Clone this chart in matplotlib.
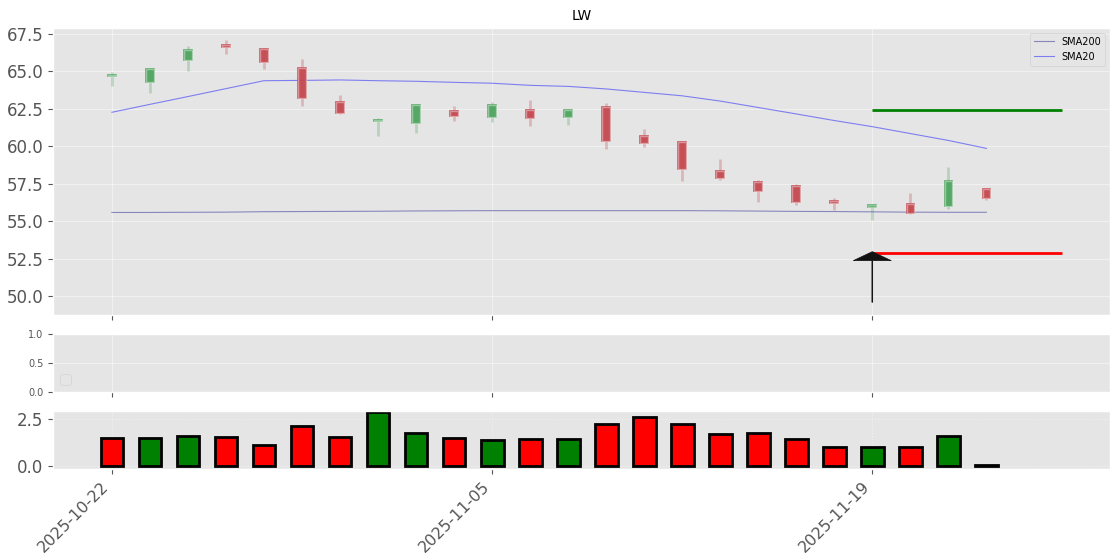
import numpy as np
import matplotlib.pyplot as plt
from matplotlib.ticker import MultipleLocator

plt.style.use('ggplot')
plt.rcParams['grid.alpha'] = 0.45

# trading-day index -> date labels on the shared x axis
tick_pos = [0, 10, 20]
tick_labels = ['2025-10-22', '2025-11-05', '2025-11-19']

# daily candles
opens = [64.70, 64.29, 65.76, 66.79, 66.52, 65.25, 62.98, 61.69, 61.55, 62.36, 61.96, 62.42,
         61.96, 62.62, 60.69, 60.29, 58.37, 57.63, 57.37, 56.36, 55.96, 56.17, 56.01, 57.17]
highs = [64.96, 65.23, 66.72, 67.12, 66.56, 65.81, 63.45, 61.89, 62.82, 62.71, 62.94, 63.09,
         62.49, 62.89, 61.15, 60.29, 59.17, 57.75, 57.46, 56.56, 56.14, 56.90, 58.64, 57.17]
lows = [64.03, 63.56, 65.03, 66.16, 65.16, 62.69, 62.16, 60.69, 60.91, 61.69, 61.64, 61.35,
        61.42, 59.82, 59.95, 57.68, 57.75, 56.30, 56.08, 55.74, 55.07, 55.48, 55.79, 56.41]
closes = [64.78, 65.18, 66.45, 66.61, 65.63, 63.22, 62.20, 61.76, 62.76, 62.02, 62.76, 61.89,
          62.42, 60.35, 60.20, 58.48, 57.88, 57.01, 56.30, 56.23, 56.10, 55.52, 57.70, 56.52]

sma20 = [62.27, 62.80, 63.32, 63.85, 64.38, 64.40, 64.43, 64.38, 64.34, 64.27, 64.21, 64.07,
         64.00, 63.83, 63.60, 63.37, 63.02, 62.59, 62.16, 61.72, 61.31, 60.85, 60.39, 59.86]
sma200 = [55.58, 55.58, 55.59, 55.60, 55.63, 55.64, 55.65, 55.66, 55.68, 55.69, 55.70, 55.70,
          55.70, 55.70, 55.70, 55.70, 55.69, 55.67, 55.65, 55.64, 55.62, 55.60, 55.59, 55.59]

# volume (millions) and bar colours
volume = [1.48, 1.48, 1.58, 1.53, 1.11, 2.11, 1.53, 2.85, 1.79, 1.48, 1.37, 1.44,
          1.44, 2.22, 2.59, 2.22, 1.69, 1.79, 1.44, 1.00, 1.05, 1.05, 1.63, 0.05]
vol_up = [0, 1, 1, 0, 0, 0, 0, 1, 1, 0, 1, 0, 1, 0, 0, 0, 0, 0, 0, 0, 1, 0, 1, 0]

# trade levels
entry_idx = 20
target_end = 25
take_profit = 62.44
stop_loss = 52.89
arrow_base = 49.58
arrow_tip = 52.96

x = np.arange(len(opens))
o = np.array(opens)
c = np.array(closes)
up = c >= o
col = np.where(up, '#4fa55f', '#c44a50')

fig = plt.figure(figsize=(11.2, 5.6), dpi=100)
ax = fig.add_axes([0.0473, 0.4375, 0.9437, 0.5125])
ax2 = fig.add_axes([0.0473, 0.30, 0.9437, 0.1036], sharex=ax)
ax3 = fig.add_axes([0.0473, 0.1625, 0.9437, 0.1036], sharex=ax)

# candles
ax.vlines(x, lows, highs, colors=col, alpha=0.3, lw=2, zorder=2)
ax.bar(x, np.abs(c - o), bottom=np.minimum(o, c), width=0.2, color=col,
       edgecolor=col, linewidth=1.2, alpha=0.95, zorder=3)
ax.bar(x, np.abs(c - o), bottom=np.minimum(o, c), width=0.2, color='none',
       edgecolor='white', linewidth=1.0, alpha=0.4, zorder=4)

ax.plot(x, sma200, color='#3a3a9a', alpha=0.55, lw=0.8, label='SMA200')
ax.plot(x, sma20, color='blue', alpha=0.45, lw=0.8, label='SMA20')

ax.hlines(take_profit, entry_idx, target_end, colors='green', lw=2)
ax.hlines(stop_loss, entry_idx, target_end, colors='red', lw=2)
ax.arrow(entry_idx, arrow_base, 0, arrow_tip - arrow_base, width=0.02,
         head_width=1.0, head_length=0.6, length_includes_head=True,
         fc='#111111', ec='#111111', zorder=5)

ax.set_title('LW', fontsize=10, color='black')
ax.set_xlim(-1.55, 26.25)
ax.set_ylim(48.73, 67.9)
ax.yaxis.set_major_locator(MultipleLocator(2.5))
ax.tick_params(axis='y', labelsize=12)
ax.tick_params(axis='x', labelbottom=False)
ax.legend(loc='upper right', fontsize=7)

# empty indicator panel
ax2.set_ylim(0, 1)
ax2.set_yticks([0.0, 0.5, 1.0])
ax2.tick_params(axis='y', labelsize=7)
ax2.tick_params(axis='x', labelbottom=False)
ax2.legend(handles=[], loc='lower left')

# volume
vcol = ['green' if u else 'red' for u in vol_up]
ax3.bar(x, volume, width=0.6, color=vcol, edgecolor='black', linewidth=2)
ax3.set_ylim(-0.14, 2.93)
ax3.set_yticks([0.0, 2.5])
ax3.tick_params(axis='y', labelsize=12)
ax3.grid(True, linestyle=':')

ax.set_xticks(tick_pos)
ax3.set_xticklabels(tick_labels, rotation=45, ha='right', fontsize=11.5)

fig.savefig('out.png', dpi=100)
